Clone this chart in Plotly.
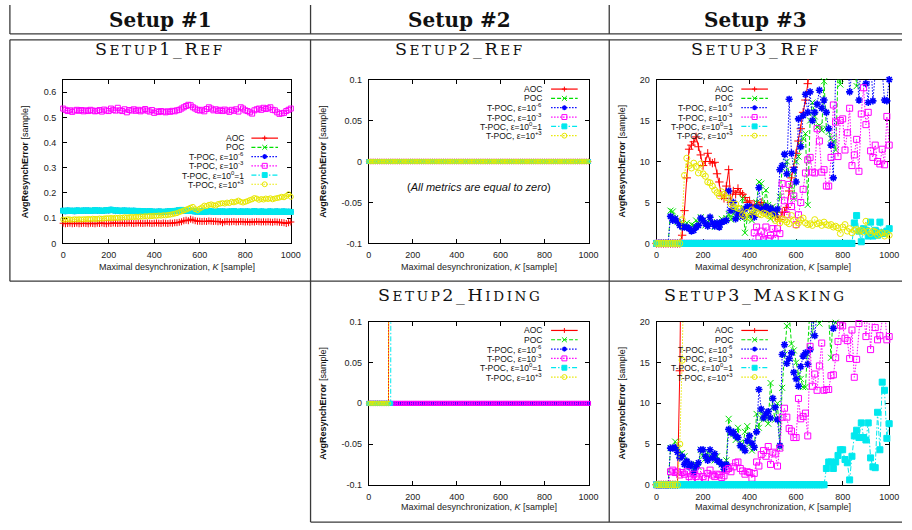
import plotly.graph_objects as go

W, H = 912, 530

# ---------------- data ----------------
K = list(range(0, 1001, 10))          # maximal desynchronization grid [sample]
N = len(K)

SERIES = ["AOC", "POC", "T-POC, ε=10<sup>-6</sup>", "T-POC, ε=10<sup>-3</sup>",
          "T-POC, ε=10<sup>0</sup>=1", "T-POC, ε=10<sup>+3</sup>"]

X_TICKS = [0, 200, 400, 600, 800, 1000]
X_TICKTEXT = ["0", "200", "400", "600", "800", "1000"]
S1_YTICKS = [0, 0.1, 0.2, 0.3, 0.4, 0.5, 0.6]
S1_YTEXT = ["0", "0.1", "0.2", "0.3", "0.4", "0.5", "0.6"]
S2_YTICKS = [-0.1, -0.05, 0, 0.05, 0.1]
S2_YTEXT = ["-0.1", "-0.05", "0", "0.05", "0.1"]
S3_YTICKS = [0, 5, 10, 15, 20]
S3_YTEXT = ["0", "5", "10", "15", "20"]

COLUMN_HEADERS = ["Setup #1", "Setup #2", "Setup #3"]

# Setup1_Ref
s1_aoc = [0.080, 0.078, 0.079, 0.080, 0.078, 0.079, 0.080, 0.078, 0.079, 0.080,
          0.079, 0.078, 0.080, 0.079, 0.078, 0.080, 0.079, 0.081, 0.079, 0.078,
          0.080, 0.079, 0.081, 0.080, 0.079, 0.080, 0.081, 0.079, 0.080, 0.081,
          0.080, 0.079, 0.080, 0.081, 0.080, 0.079, 0.080, 0.081, 0.080, 0.079,
          0.080, 0.081, 0.080, 0.079, 0.081, 0.080, 0.079, 0.081, 0.080, 0.082,
          0.082, 0.084, 0.086, 0.090, 0.092, 0.090, 0.096, 0.093, 0.090, 0.088,
          0.088, 0.087, 0.088, 0.087, 0.089, 0.088, 0.087, 0.088, 0.086, 0.087,
          0.082, 0.086, 0.087, 0.085, 0.086, 0.087, 0.085, 0.086, 0.087, 0.086,
          0.085, 0.086, 0.084, 0.086, 0.085, 0.087, 0.086, 0.085, 0.086, 0.085,
          0.086, 0.085, 0.084, 0.086, 0.085, 0.084, 0.083, 0.082, 0.079, 0.082, 0.085]
s1_tpoc3 = [0.535, 0.530, 0.525, 0.528, 0.522, 0.527, 0.530, 0.526, 0.529, 0.524,
            0.528, 0.525, 0.530, 0.527, 0.524, 0.526, 0.529, 0.523, 0.531, 0.527,
            0.525, 0.535, 0.530, 0.527, 0.538, 0.528, 0.525, 0.532, 0.520, 0.529,
            0.527, 0.532, 0.526, 0.530, 0.524, 0.528, 0.533, 0.527, 0.523, 0.529,
            0.518, 0.524, 0.521, 0.525, 0.523, 0.520, 0.524, 0.522, 0.526, 0.524,
            0.528, 0.530, 0.535, 0.540, 0.545, 0.550, 0.548, 0.540, 0.535, 0.530,
            0.527, 0.530, 0.524, 0.533, 0.540, 0.535, 0.528, 0.532, 0.526, 0.530,
            0.525, 0.531, 0.527, 0.522, 0.530, 0.526, 0.532, 0.523, 0.540, 0.535,
            0.528, 0.525, 0.520, 0.515, 0.528, 0.532, 0.535, 0.530, 0.538, 0.533,
            0.536, 0.540, 0.530, 0.528, 0.520, 0.514, 0.516, 0.518, 0.525, 0.530, 0.535]
s1_tpoc0 = [0.130, 0.128, 0.131, 0.129, 0.130, 0.128, 0.131, 0.130, 0.129, 0.131,
            0.130, 0.131, 0.129, 0.130, 0.132, 0.130, 0.131, 0.129, 0.130, 0.132,
            0.131, 0.134, 0.132, 0.130, 0.131, 0.129, 0.130, 0.131, 0.129, 0.130,
            0.129, 0.130, 0.128, 0.129, 0.127, 0.128, 0.126, 0.127, 0.128, 0.126,
            0.126, 0.125, 0.127, 0.126, 0.125, 0.126, 0.127, 0.128, 0.127, 0.129,
            0.130, 0.132, 0.133, 0.131, 0.130, 0.129, 0.130, 0.128, 0.127, 0.126,
            0.126, 0.127, 0.125, 0.126, 0.128, 0.127, 0.126, 0.125, 0.127, 0.126,
            0.127, 0.126, 0.125, 0.127, 0.126, 0.128, 0.126, 0.125, 0.127, 0.126,
            0.126, 0.127, 0.125, 0.126, 0.128, 0.126, 0.125, 0.127, 0.126, 0.125,
            0.126, 0.127, 0.125, 0.126, 0.127, 0.125, 0.126, 0.127, 0.125, 0.126, 0.125]
s1_poc = s1_tpoc0      # hidden beneath the T-POC ε=1 curve
s1_tpoc6 = s1_tpoc0    # hidden beneath the T-POC ε=1 curve
s1_tpoc3p = [0.095, 0.094, 0.096, 0.095, 0.094, 0.096, 0.095, 0.096, 0.095, 0.096,
             0.096, 0.097, 0.096, 0.098, 0.097, 0.097, 0.099, 0.098, 0.099, 0.100,
             0.100, 0.101, 0.100, 0.102, 0.101, 0.103, 0.102, 0.104, 0.103, 0.104,
             0.105, 0.104, 0.106, 0.105, 0.107, 0.106, 0.108, 0.107, 0.109, 0.108,
             0.110, 0.109, 0.111, 0.110, 0.112, 0.111, 0.113, 0.114, 0.116, 0.118,
             0.120, 0.124, 0.127, 0.131, 0.134, 0.138, 0.142, 0.145, 0.136, 0.132,
             0.138, 0.143, 0.150, 0.148, 0.153, 0.155, 0.152, 0.150, 0.156, 0.158,
             0.160, 0.158, 0.162, 0.160, 0.165, 0.163, 0.166, 0.170, 0.165, 0.162,
             0.165, 0.168, 0.172, 0.175, 0.180, 0.178, 0.173, 0.176, 0.174, 0.178,
             0.176, 0.179, 0.175, 0.178, 0.180, 0.182, 0.185, 0.183, 0.188, 0.195, 0.185]

# Setup2_Ref: all metrics equal to zero
s2r_all_zero = [0.0] * N

# Setup2_Hiding (last point of a short list lies above the plotted range)
s2h_aoc = [0.0] * 10 + [2.0]
s2h_poc = [0.0] * N
s2h_tpoc6 = [0.0] * N
s2h_tpoc3 = [0.0] * N
s2h_tpoc0 = [0.0] * 11 + [2.0]
s2h_tpoc3p = [0.0] * 10 + [2.0]

# Setup3_Ref
s3r_aoc = [0.0] * 11 + [
    1.0, 4.0, 8.0, 11.5, 12.0, 12.4, 13.0, 11.8, 10.8,
    9.5, 10.0, 11.0, 10.0, 9.8, 9.9, 8.5, 7.5, 5.8, 5.5,
    7.0, 9.0, 5.0, 6.4, 6.0, 6.7, 6.2, 6.0, 5.6, 5.0,
    5.2, 4.6, 4.7, 4.7, 4.7, 5.0, 4.6, 4.5, 4.3, 3.9,
    4.2, 3.2, 3.3, 2.9, 3.8, 3.8, 4.4, 6.4, 8.0, 9.3,
    11.0, 12.5, 14.0, 16.0, 17.5, 19.5, 21.5]
s3r_poc = [0.0] * 6 + [
    4.0, 3.9, 3.1, 2.6,
    2.5, 2.3, 2.2, 2.5, 2.0, 2.3, 2.2, 2.8, 2.5, 3.2,
    2.8, 2.2, 2.6, 3.0, 2.4, 2.0, 2.6, 2.3, 3.0, 2.7,
    3.1, 3.6, 2.9, 3.6, 4.2, 3.1, 3.8, 5.5, 1.3, 3.0,
    3.5, 2.8, 3.9, 5.0, 7.5, 7.3, 4.5, 6.5, 4.7, 3.0,
    4.5, 3.5, 4.0, 5.7, 9.2, 9.5, 10.0, 8.5, 7.0, 5.5,
    10.0, 10.6, 12.0, 12.8, 13.4, 4.7, 15.0, 17.2, 15.5, 14.2,
    14.4, 13.8, 19.8, 14.0, 13.6, 12.8, 12.4, 11.4, 20.5, 19.4,
    22.0, 20.5, 24.0, 21.0, 23.0, 22.0, 19.2, 24.0, 21.0, 23.0,
    22.0, 25.0, 21.0, 24.0, 22.0, 23.0, 21.0, 25.0, 22.0, 24.0, 23.0]
s3r_tpoc6 = [0.0] * 6 + [
    3.3, 2.8, 3.0, 2.7,
    2.2, 2.0, 2.0, 2.0, 1.8, 1.5, 1.6, 2.0, 2.2, 3.1,
    2.8, 2.4, 2.1, 3.2, 2.5, 2.1, 2.5, 2.0, 2.6, 2.7,
    2.8, 6.4, 4.0, 5.0, 3.0, 3.6, 3.8, 3.3, 4.2, 4.5,
    4.5, 3.5, 3.2, 4.4, 6.8, 4.2, 4.0, 4.5, 3.8, 4.3,
    4.0, 3.5, 4.2, 9.0, 9.5, 10.9, 8.5, 17.6, 11.0, 9.0,
    7.5, 15.2, 11.8, 15.6, 18.2, 16.0, 18.5, 15.0, 16.0, 17.0,
    18.7, 16.5, 17.5, 16.0, 14.0, 12.0, 8.0, 21.0, 22.5, 20.5,
    25.0, 21.5, 24.0, 18.5, 21.0, 20.5, 22.0, 17.5, 22.5, 20.5,
    19.5, 17.2, 23.0, 17.4, 20.5, 24.0, 22.0, 21.0, 17.5, 17.4, 20.0]
s3r_tpoc3 = [0.0] * 42 + [
    1.3, 2.0, 0.8, 1.5, 0.5, 2.0, 0.6, 1.0,
    1.8, 0.6, 1.8, 1.2, 7.3, 5.2, 3.5, 7.2, 4.5, 5.8,
    2.3, 3.5, 5.0, 6.6, 8.6, 10.2, 10.5, 8.7, 8.6, 14.0,
    12.5, 8.7, 9.0, 7.0, 7.0, 10.5, 16.9, 14.8, 10.6, 15.0,
    15.2, 11.4, 13.5, 16.5, 9.5, 10.8, 12.7, 8.8, 15.8, 19.0,
    14.5, 16.0, 11.3, 10.5, 12.0, 10.0, 9.7, 11.5, 9.6, 15.5, 12.0]
s3r_tpoc0 = [0.0] * 85 + [
    2.5, 3.4, 1.5, 0.2, 1.8, 1.6, 0.9, 2.6, 0.9, 1.6, 1.0, 2.6, 1.3, 1.2, 1.5, 1.8]
s3r_tpoc3p = [0.0] * 11 + [
    2.9, 8.3, 10.4, 9.5, 9.2, 9.8, 9.4, 8.6, 9.7,
    8.5, 8.2, 7.5, 7.4, 7.0, 6.5, 6.2, 5.8, 6.3, 6.0,
    5.6, 5.5, 4.8, 4.5, 4.8, 4.3, 4.2, 3.5, 3.3, 3.8,
    3.2, 4.1, 3.9, 3.8, 3.6, 3.5, 3.7, 3.6, 3.4, 3.3,
    3.5, 2.8, 3.0, 2.5, 3.0, 2.9, 2.6, 2.4, 3.4, 2.8,
    2.2, 2.5, 2.9, 3.1, 2.5, 2.3, 2.4, 2.2, 2.9, 2.4,
    2.5, 2.2, 2.6, 2.3, 2.2, 2.3, 2.0, 2.1, 1.9, 1.2,
    2.0, 2.3, 1.5, 1.8, 1.3, 1.6, 1.7, 1.5, 1.6, 1.4,
    2.7, 1.5, 1.2, 1.5, 1.4, 1.0, 1.2, 1.3, 0.9, 1.2, 1.0]

# Setup3_Masking
s3m_aoc = [0.0] * 10 + [14.0, 40.0]
s3m_poc = [0.0] * 6 + [
    4.5, 4.6, 5.3, 4.5,
    3.8, 3.9, 3.5, 2.8, 2.5, 2.3, 2.0, 2.5, 2.2, 4.3,
    3.5, 3.2, 4.0, 3.3, 3.8, 3.0, 3.5, 2.8, 2.5, 2.0,
    3.0, 8.1, 6.5, 6.2, 5.5, 7.0, 5.2, 4.5, 6.5, 7.2,
    5.0, 4.2, 4.5, 8.7, 7.0, 9.0, 8.0, 8.5, 7.5, 12.5,
    9.5, 8.0, 10.0, 4.6, 11.9, 16.0, 19.5, 21.0, 17.3, 16.5,
    15.0, 13.6, 13.0, 12.0, 12.0, 16.0, 22.0, 18.3, 21.0, 24.0,
    19.8, 23.0, 25.0, 22.0, 20.5, 15.6, 22.0, 19.9, 24.0]
s3m_tpoc6 = [0.0] * 6 + [
    4.5, 4.5, 4.6, 4.0,
    3.3, 3.5, 2.5, 2.9, 2.2, 2.5, 1.5, 2.2, 2.7, 4.3,
    4.3, 3.5, 3.0, 4.3, 3.3, 3.8, 3.0, 2.8, 2.5, 1.9,
    2.5, 6.8, 6.4, 6.5, 6.0, 5.8, 4.8, 4.6, 4.2, 5.4,
    6.0, 5.1, 4.6, 6.5, 11.7, 9.3, 8.2, 8.7, 9.0, 8.2,
    10.6, 9.5, 8.0, 4.8, 16.0, 17.2, 14.9, 15.5, 16.2, 13.8,
    13.0, 12.1, 14.5, 15.8, 16.2, 14.8, 16.6, 21.0, 18.3, 22.0,
    24.0, 20.5, 21.0, 23.0, 20.5, 22.0, 19.2, 20.4, 25.0]
s3m_tpoc3 = [0.0] * 6 + [
    1.6, 1.8, 1.5, 1.6,
    1.2, 1.5, 1.3, 1.6, 1.0, 0.7, 1.3, 1.0, 0.7, 1.7,
    1.0, 0.8, 1.4, 1.8, 1.2, 1.0, 1.3, 1.2, 0.9, 1.1,
    1.8, 2.0, 1.6, 2.2, 2.7, 2.8, 2.0, 1.7, 1.3, 1.6,
    1.5, 0.8, 1.4, 2.8, 2.3, 3.7, 4.2, 3.5, 4.7, 2.5,
    4.0, 3.8, 2.3, 4.5, 8.3, 9.4, 8.3, 6.9, 6.6, 5.8,
    5.8, 10.6, 8.1, 8.4, 8.8, 6.0, 17.0, 12.1, 13.6, 11.6,
    14.6, 17.4, 11.6, 11.7, 11.7, 13.4, 13.5, 15.6, 17.6, 19.6,
    19.5, 18.0, 17.7, 15.5, 19.0, 13.2, 15.4, 19.8, 22.0, 21.0,
    18.2, 22.0, 16.6, 21.0, 19.3, 17.8, 18.3, 21.0, 22.0, 17.8, 18.2]
s3m_tpoc0 = [0.0] * 73 + [
    2.0, 2.8, 2.8, 2.0, 2.8, 3.6, 4.3, 4.3, 3.1, 2.7, 0.6, 3.5, 6.0, 6.7,
    5.8, 7.6, 5.8, 5.5, 7.6, 3.3, 2.2, 2.1, 8.9, 4.3, 12.6, 11.6, 5.7, 7.5]
s3m_tpoc3p = [0.0] * 10 + [5.0, 15.3, 30.0]

# ---------------- styles ----------------
COLORS = ["#ff0000", "#00e000", "#0000ff", "#ff00ff", "#00e8ee", "#e8e800"]
DASHES = ["solid", "4px,2px", "1.5px,1.5px", "1.5px,1.5px", "5px,2px,1.5px,2px", "1.5px,1.5px"]
SYMBOLS = ["cross-thin-open", "x-thin-open", "asterisk-open", "square-open", "square", "circle-open"]
MLW = [1, 1, 1.6, 1, 1, 1]
TICKFONT = dict(family="Liberation Sans, Arial, sans-serif", size=9, color="#222")
TXT = "Liberation Sans, Arial, sans-serif"
SERIF = "DejaVu Serif, serif"
LINE_C = "#3a3a3a"


def pxx(x):
    return x / W


def pxy(y):
    return 1 - y / H


def smallcaps(segs, big=17.5, small=13.5, ls=2.6):
    out = ""
    for txt, is_big in segs:
        out += '<span style="font-size:%spx;letter-spacing:%spx">%s</span>' % (
            big if is_big else small, ls, txt)
    return out


PANELS = [
    dict(id="", xpx=(61, 292), ypx=(76, 243), yr=[0, 0.65], yt=(S1_YTICKS, S1_YTEXT),
         data=[s1_aoc, s1_poc, s1_tpoc6, s1_tpoc3, s1_tpoc0, s1_tpoc3p], ms=5,
         title=[("S", 1), ("ETUP", 0), ("1_R", 1), ("EF", 0)], tcx=159.5, tcy=45,
         ytx=23, xty=267, leg=dict(tr=247, sx=(252, 279), y0=135.7, dy=9.4)),
    dict(id="2", xpx=(371, 594), ypx=(76, 243), yr=[-0.1, 0.1], yt=(S2_YTICKS, S2_YTEXT),
         data=[s2r_all_zero] * 6, ms=4,
         title=[("S", 1), ("ETUP", 0), ("2_R", 1), ("EF", 0)], tcx=463.5, tcy=45,
         ytx=325, xty=267, leg=dict(tr=549, sx=(556, 583), y0=85.7, dy=9.5)),
    dict(id="3", xpx=(663, 899), ypx=(76, 243), yr=[0, 20], yt=(S3_YTICKS, S3_YTEXT),
         data=[s3r_aoc, s3r_poc, s3r_tpoc6, s3r_tpoc3, s3r_tpoc0, s3r_tpoc3p], ms=6,
         title=[("S", 1), ("ETUP", 0), ("3_R", 1), ("EF", 0)], tcx=763.5, tcy=45,
         ytx=628, xty=267, leg=dict(tr=742.7, sx=(749, 776), y0=85.7, dy=9.5)),
    dict(id="4", xpx=(371, 594), ypx=(323, 489), yr=[-0.1, 0.1], yt=(S2_YTICKS, S2_YTEXT),
         data=[s2h_aoc, s2h_poc, s2h_tpoc6, s2h_tpoc3, s2h_tpoc0, s2h_tpoc3p], ms=4,
         title=[("S", 1), ("ETUP", 0), ("2_H", 1), ("IDING", 0)], tcx=463.5, tcy=296,
         ytx=325, xty=512, leg=dict(tr=549, sx=(556, 583), y0=331.7, dy=9.5)),
    dict(id="5", xpx=(663, 899), ypx=(323, 489), yr=[0, 20], yt=(S3_YTICKS, S3_YTEXT),
         data=[s3m_aoc, s3m_poc, s3m_tpoc6, s3m_tpoc3, s3m_tpoc0, s3m_tpoc3p], ms=6,
         title=[("S", 1), ("ETUP", 0), ("3_M", 1), ("ASKING", 0)], tcx=763.5, tcy=296,
         ytx=628, xty=512, leg=dict(tr=742.7, sx=(749, 776), y0=331.7, dy=9.5)),
]

fig = go.Figure()
annotations = []
shapes = []


def marker_shapes(i, cx, cy, s):
    c = COLORS[i]
    h = s / 2.0
    res = []

    def seg(x0, y0, x1, y1, w=1):
        res.append(dict(type="line", xref="paper", yref="paper", x0=pxx(x0), y0=pxy(y0),
                        x1=pxx(x1), y1=pxy(y1), line=dict(color=c, width=w)))
    sym = SYMBOLS[i]
    if sym.startswith("cross"):
        seg(cx - h, cy, cx + h, cy)
        seg(cx, cy - h, cx, cy + h)
    elif sym.startswith("x-thin"):
        seg(cx - h, cy - h, cx + h, cy + h)
        seg(cx - h, cy + h, cx + h, cy - h)
    elif sym.startswith("asterisk"):
        seg(cx - h, cy, cx + h, cy, 1.5)
        seg(cx, cy - h, cx, cy + h, 1.5)
        seg(cx - h * 0.7, cy - h * 0.7, cx + h * 0.7, cy + h * 0.7, 1.5)
        seg(cx - h * 0.7, cy + h * 0.7, cx + h * 0.7, cy - h * 0.7, 1.5)
    elif sym == "square-open":
        res.append(dict(type="rect", xref="paper", yref="paper", x0=pxx(cx - h), x1=pxx(cx + h),
                        y0=pxy(cy + h), y1=pxy(cy - h), line=dict(color=c, width=1),
                        fillcolor="rgba(0,0,0,0)"))
    elif sym == "square":
        res.append(dict(type="rect", xref="paper", yref="paper", x0=pxx(cx - h), x1=pxx(cx + h),
                        y0=pxy(cy + h), y1=pxy(cy - h), line=dict(color=c, width=1),
                        fillcolor=c))
    else:
        res.append(dict(type="circle", xref="paper", yref="paper", x0=pxx(cx - h), x1=pxx(cx + h),
                        y0=pxy(cy + h), y1=pxy(cy - h), line=dict(color=c, width=1),
                        fillcolor="rgba(0,0,0,0)"))
    return res


for p in PANELS:
    xa, ya = "x" + p["id"], "y" + p["id"]
    ymin, ymax = p["yr"]
    for i, ys in enumerate(p["data"]):
        inside = [ymin <= v <= ymax for v in ys]
        fig.add_trace(go.Scatter(
            x=K[:len(ys)], y=ys, xaxis=xa, yaxis=ya, mode="lines+markers",
            cliponaxis=False, showlegend=False, hoverinfo="skip",
            line=dict(color=COLORS[i], width=1, dash=DASHES[i]),
            marker=dict(symbol=SYMBOLS[i], size=[p["ms"] if f else 0 for f in inside],
                        opacity=[1 if f else 0 for f in inside],
                        color=COLORS[i], line=dict(color=COLORS[i], width=MLW[i]))))
    x0, x1 = p["xpx"]
    y0, y1 = p["ypx"]
    common = dict(showline=True, linecolor="black", linewidth=1, mirror="allticks",
                  ticks="inside", ticklen=4, tickwidth=1, tickcolor="black",
                  showgrid=False, zeroline=False, tickfont=TICKFONT,
                  layer="below traces", fixedrange=True)
    fig.update_layout(**{
        "xaxis" + p["id"]: dict(domain=[pxx(x0), pxx(x1)], range=[0, 1000], anchor=ya,
                                tickvals=X_TICKS, ticktext=X_TICKTEXT, ticklabelstandoff=3,
                                **common),
        "yaxis" + p["id"]: dict(domain=[pxy(y1), pxy(y0)], range=p["yr"], anchor=xa,
                                tickvals=p["yt"][0], ticktext=p["yt"][1], ticklabelstandoff=4,
                                **common),
    })
    # panel title (small caps)
    annotations.append(dict(text=smallcaps(p["title"]), x=pxx(p["tcx"]), y=pxy(p["tcy"]),
                            xref="paper", yref="paper", xanchor="center", yanchor="middle",
                            showarrow=False, font=dict(family=SERIF, size=17.5, color="#111")))
    # axis titles
    annotations.append(dict(text="<b>AvgResynchError</b> [sample]", textangle=-90,
                            x=pxx(p["ytx"]), y=pxy((y0 + y1) / 2), xref="paper", yref="paper",
                            xanchor="center", yanchor="middle", showarrow=False,
                            font=dict(family=TXT, size=9, color="#111")))
    annotations.append(dict(text="Maximal desynchronization, <i>K</i> [sample]",
                            x=pxx((x0 + x1) / 2), y=pxy(p["xty"]), xref="paper", yref="paper",
                            xanchor="center", yanchor="middle", showarrow=False,
                            font=dict(family=TXT, size=9, color="#222")))
    # key
    lg = p["leg"]
    for i, name in enumerate(SERIES):
        ry = lg["y0"] + i * lg["dy"]
        annotations.append(dict(text=name, x=pxx(lg["tr"]), y=pxy(ry), xref="paper", yref="paper",
                                xanchor="right", yanchor="middle", showarrow=False,
                                font=dict(family=TXT, size=8.5, color="#111")))
        shapes.append(dict(type="line", xref="paper", yref="paper",
                           x0=pxx(lg["sx"][0]), x1=pxx(lg["sx"][1]), y0=pxy(ry), y1=pxy(ry),
                           line=dict(color=COLORS[i], width=1.2, dash=DASHES[i])))
        shapes.extend(marker_shapes(i, (lg["sx"][0] + lg["sx"][1]) / 2.0, ry, 5))

# note in Setup2_Ref
annotations.append(dict(text="(<i>All metrics are equal to zero</i>)", x=pxx(483), y=pxy(186),
                        xref="paper", yref="paper", xanchor="center", yanchor="middle",
                        showarrow=False, font=dict(family=TXT, size=11, color="#111")))

# column headers
for hdr, cx in zip(COLUMN_HEADERS, [159.5, 463.5, 763.5]):
    annotations.append(dict(text="<b>%s</b>" % hdr, x=pxx(cx), y=pxy(15), xref="paper", yref="paper",
                            xanchor="center", yanchor="middle", showarrow=False,
                            font=dict(family=SERIF, size=20, color="#111")))


def hline(y, xa, xb):
    shapes.append(dict(type="line", xref="paper", yref="paper", x0=pxx(xa), x1=pxx(xb),
                       y0=pxy(y), y1=pxy(y), line=dict(color=LINE_C, width=1.3)))


def vline(x, ya, yb):
    shapes.append(dict(type="line", xref="paper", yref="paper", x0=pxx(x), x1=pxx(x),
                       y0=pxy(ya), y1=pxy(yb), line=dict(color=LINE_C, width=1.3)))


hline(29.5, 7, 912)
hline(35.5, 7, 912)
hline(281.5, 7, 912)
hline(527, 312, 912)
for x in (7, 312, 615):
    vline(x, 0, 29.5)
vline(7, 35.5, 281.5)
vline(312, 35.5, 527)
vline(615, 35.5, 527)

fig.update_layout(width=W, height=H, autosize=False, margin=dict(l=0, r=0, t=0, b=0),
                  paper_bgcolor="white", plot_bgcolor="white",
                  annotations=annotations, shapes=shapes, showlegend=False)

# drop the default page margin so the 912x530 figure sits at the window origin
POST = ("document.documentElement.style.margin='0';document.documentElement.style.overflow='hidden';"
        "document.body.style.margin='0';document.body.style.padding='0';"
        "document.body.style.overflow='hidden';")

fig.write_html("out.html", config={"displayModeBar": False, "staticPlot": True},
               post_script=POST)
